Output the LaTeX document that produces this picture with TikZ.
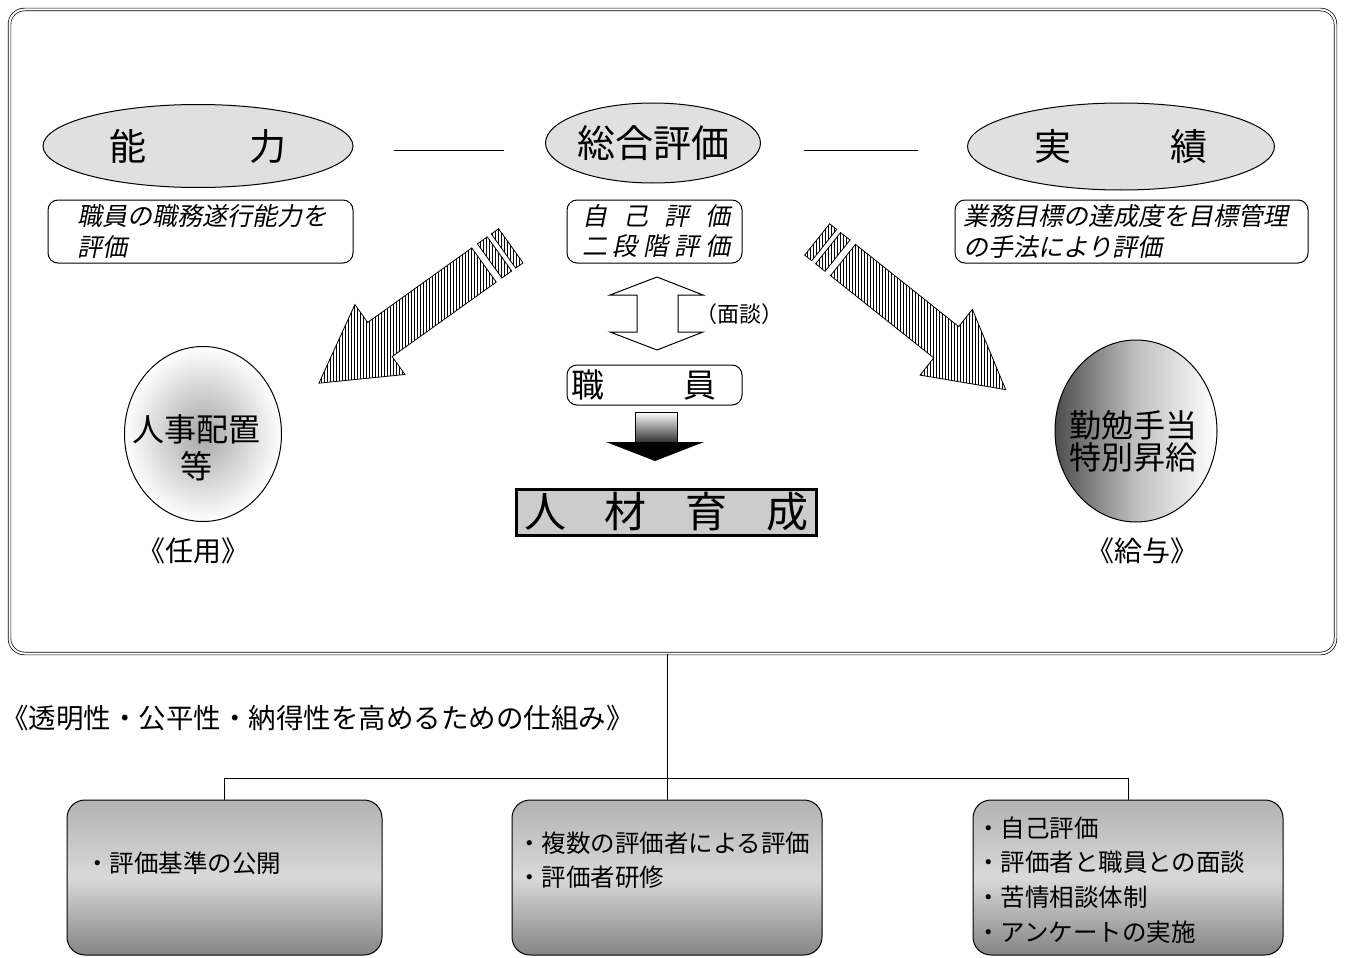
\documentclass[tikz,border=0pt]{standalone}
\usepackage{fontspec}
\setmainfont{Noto Sans CJK JP}
\newfontfamily\itcjk[FakeSlant=0.2]{Noto Sans CJK JP}
\usetikzlibrary{shapes.geometric,patterns}
\begin{document}
\begin{tikzpicture}[x=1pt,y=-1pt,
  oval/.style={ellipse, draw, line width=1pt, fill=black!12, inner sep=0pt},
  rbox/.style={draw, rounded corners=10pt, line width=1pt, inner sep=0pt},
  gbox/.style={draw, rounded corners=18pt, line width=1pt, inner sep=0pt,
    top color=black!30, bottom color=black!48, middle color=black!15},
  txt/.style={inner sep=0pt},
  ittxt/.style={inner sep=0pt, align=left, anchor=west, font=\itcjk\fontsize{25}{31}\selectfont},
  hatch/.style={draw, line width=0.8pt, pattern=vertical lines},
  conn/.style={line width=1pt}]
\useasboundingbox (0,0) rectangle (1345,958);

% outer frame
\node[draw, double, double distance=2pt, line width=0.7pt, rounded corners=15pt,
  minimum width=1326pt, minimum height=644pt, inner sep=0pt] (frame) at (672.5,331.5) {};

% ellipses
\node[oval, minimum width=310pt, minimum height=83pt] (noryoku) at (198,146)
  {\fontsize{37}{37}\selectfont 能\hspace{103pt}力};
\node[oval, minimum width=193pt, minimum height=80pt] (sogo) at (653,143)
  {\fontsize{38}{38}\selectfont 総合評価};
\node[oval, minimum width=307pt, minimum height=87pt] (jisseki) at (1121,146.5)
  {\fontsize{37}{37}\selectfont 実\hspace{99pt}績};

\draw[conn] ([xshift=40pt,yshift=-4pt]noryoku.east) -- ([xshift=-41.5pt,yshift=-7pt]sogo.west);
\draw[conn] ([xshift=43.5pt,yshift=-7pt]sogo.east) -- ([xshift=-49.5pt,yshift=-3.5pt]jisseki.west);

% description boxes
\node[rbox, minimum width=305pt, minimum height=63pt] (b1) at (200.5,231.5) {};
\node[ittxt] (t1) at (77,231.5) {職員の職務遂行能力を\\評価};
\node[rbox, minimum width=175pt, minimum height=63pt] (b2) at (654.5,231.5) {};
\node[txt, align=center, font=\itcjk\fontsize{25}{30}\selectfont] (t2) at (656,231)
  {\makebox[148pt]{自\hfill 己\hfill 評\hfill 価}\\\makebox[148pt]{二\hfill 段\hfill 階\hfill 評\hfill 価}};
\node[rbox, minimum width=353pt, minimum height=63pt] (b3) at (1131.5,231.5) {};
\node[ittxt] (t3) at (963,231) {業務目標の達成度を目標管理\\の手法により評価};

% hatched arrows
\begin{scope}[shift={(484,265)}, rotate=215.6]
  \path[hatch] (0,-21) -- (128,-21) -- (128,-43) -- (203,0) -- (128,43) -- (128,21) -- (0,21) -- cycle;
  \path[hatch] (-7,-21) -- (-7,21) -- (-19,21) -- (-19,-21) -- cycle;
  \path[hatch] (-24,-21) -- (-24,21) -- (-33,21) -- (-33,-21) -- cycle;
\end{scope}
\begin{scope}[shift={(843,260)}, rotate=-38.55]
  \path[hatch] (0,-20) -- (132,-20) -- (132,-42) -- (208,0) -- (132,42) -- (132,20) -- (0,20) -- cycle;
  \path[hatch] (-7,-20) -- (-7,20) -- (-19,20) -- (-19,-20) -- cycle;
  \path[hatch] (-24,-20) -- (-24,20) -- (-33,20) -- (-33,-20) -- cycle;
\end{scope}

% up-down open arrow
\draw[line width=1pt, fill=white] (657,277) -- (703,295) -- (678,295) -- (678,332) -- (703,332)
  -- (657,350) -- (610,332) -- (637,332) -- (637,295) -- (610,295) -- cycle;
\node[txt, anchor=west, font=\fontsize{22}{22}\selectfont] (mendan) at (695,314) {（面談）};

% staff box
\node[rbox, minimum width=175pt, minimum height=40pt] (b4) at (654.5,385) {};
\node[txt, font=\fontsize{33}{33}\selectfont] (t4) at (644,385) {職\hspace{79pt}員};

% down arrow
\draw[line width=0.6pt, top color=white, bottom color=black!80] (635,412) rectangle (677,442);
\fill (606,442) -- (704,442) -- (655,461) -- cycle;

% jinzai ikusei
\node[draw, line width=3pt, fill=black!20, minimum width=300pt, minimum height=46pt, inner sep=0pt]
  (jinzai) at (666.5,512) {\fontsize{42}{42}\selectfont 人\hspace{39pt}材\hspace{39pt}育\hspace{39pt}成};

% circles
\node[ellipse, draw, line width=1pt, minimum width=157pt, minimum height=175pt,
  inner color=black!35, outer color=white] (jinji) at (203,434) {};
\node[txt, align=center, font=\fontsize{32}{37}\selectfont] (jinjit) at (196,448) {人事配置\\等};
\node[txt, font=\fontsize{28}{28}\selectfont] (ninyo) at (193,551) {《任用》};

\node[ellipse, draw, line width=1pt, minimum width=162pt, minimum height=182pt,
  left color=black!70, right color=white, middle color=black!25] (kinben) at (1136,431) {};
\node[txt, align=center, font=\fontsize{32}{32}\selectfont] (kinbent) at (1133,441) {勤勉手当\\特別昇給};
\node[txt, font=\fontsize{28}{28}\selectfont] (kyuyo) at (1142,551) {《給与》};

% title
\node[txt, anchor=west, font=\fontsize{27.5}{27.5}\selectfont] (title) at (1,718)
  {《透明性・公平性・納得性を高めるための仕組み》};

% bottom boxes
\node[gbox, minimum width=315pt, minimum height=155pt] (g1) at (224.5,877.5) {};
\node[gbox, minimum width=310pt, minimum height=155pt] (g2) at (667,877.5) {};
\node[gbox, minimum width=310pt, minimum height=155pt] (g3) at (1128,877.5) {};
\node[txt, anchor=west, font=\fontsize{24.5}{24.5}\selectfont] (g1t) at (85,863) {・評価基準の公開};
\node[txt, anchor=west, align=left, font=\fontsize{24.5}{34}\selectfont] (g2t) at (517,860)
  {・複数の評価者による評価\\・評価者研修};
\node[txt, anchor=west, align=left, font=\fontsize{24.5}{34.8}\selectfont] (g3t) at (976,880)
  {・自己評価\\・評価者と職員との面談\\・苦情相談体制\\・アンケートの実施};

% connectors
\coordinate (bus) at (668,778);
\draw[conn] (frame.south -| g2.north) -- (g2.north);
\draw[conn] (g1.north) -- (g1.north |- bus) -- (g3.north |- bus) -- (g3.north);
\end{tikzpicture}
\end{document}
